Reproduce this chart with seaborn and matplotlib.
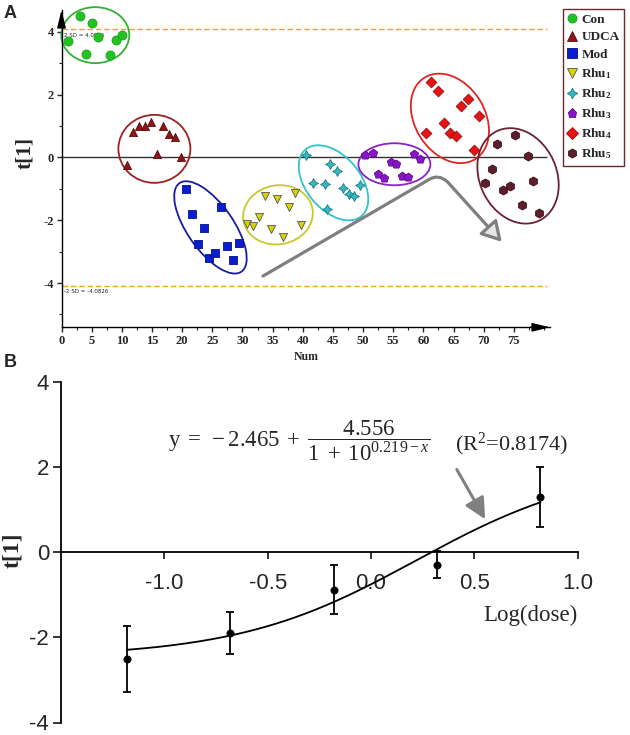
import numpy as np
import pandas as pd
import matplotlib
matplotlib.use("Agg")
import matplotlib.pyplot as plt
import seaborn as sns
from matplotlib.patches import Ellipse, FancyArrowPatch
from matplotlib.path import Path
from matplotlib.lines import Line2D
from matplotlib.transforms import ScaledTranslation
from matplotlib.ticker import MultipleLocator

# ---------------- data: panel A (PCA score plot) ----------------
groups = ["Con", "UDCA", "Mod", "Rhu1", "Rhu2", "Rhu3", "Rhu4", "Rhu5"]
legend_labels = ["Con", "UDCA", "Mod", r"Rhu$_{\mathbf{1}}$", r"Rhu$_{\mathbf{2}}$",
                 r"Rhu$_{\mathbf{3}}$", r"Rhu$_{\mathbf{4}}$", r"Rhu$_{\mathbf{5}}$"]

con_num = [1.1, 3.0, 4.1, 5.1, 6.1, 8.0, 9.0, 10.1]
con_t = [3.70, 4.50, 3.29, 4.27, 3.82, 3.27, 3.74, 3.89]
udca_num = [10.9, 11.9, 12.8, 13.8, 14.9, 15.9, 16.8, 17.8, 18.8, 19.8]
udca_t = [-0.25, 0.82, 1.00, 1.00, 1.13, 0.10, 1.00, 0.74, 0.66, 0.00]
mod_num = [20.7, 21.7, 22.7, 23.7, 24.5, 25.5, 26.5, 27.5, 28.4, 29.4]
mod_t = [-1.02, -1.81, -2.77, -2.26, -3.22, -3.06, -1.57, -2.82, -3.27, -2.72]
rhu1_num = [30.8, 31.7, 32.7, 33.7, 34.8, 35.7, 36.7, 37.8, 38.7, 39.7]
rhu1_t = [-2.12, -2.19, -1.89, -1.23, -2.28, -1.34, -2.55, -1.57, -1.15, -2.16]
rhu2_num = [40.6, 41.7, 43.7, 44.0, 44.5, 45.6, 46.6, 47.6, 48.5, 49.5]
rhu2_t = [0.07, -0.83, -0.86, -1.65, -0.21, -0.43, -0.99, -1.18, -1.23, -0.88]
rhu3_num = [50.4, 51.6, 52.4, 53.5, 54.6, 55.5, 56.5, 57.5, 58.4, 59.5]
rhu3_t = [0.07, 0.15, -0.53, -0.67, -0.14, -0.21, -0.59, -0.64, 0.10, -0.06]
rhu4_num = [60.5, 61.3, 62.5, 63.4, 64.4, 65.4, 66.3, 67.4, 68.4, 69.2]
rhu4_t = [0.76, 2.41, 2.11, 1.08, 0.78, 0.69, 1.63, 1.86, 0.23, 1.32]
rhu5_num = [70.2, 71.3, 72.2, 73.2, 74.3, 75.2, 76.3, 77.3, 78.2, 79.2]
rhu5_t = [-0.81, -0.37, 0.42, -1.04, -0.90, 0.71, -1.52, 0.05, -0.75, -1.78]

sd_limit = 4.0826
x_ticks_a = list(range(0, 80, 5))
y_ticks_a = [-4, -2, 0, 2, 4]

# ---------------- data: panel B (dose response) ----------------
log_dose = [-1.18, -0.68, -0.18, 0.32, 0.82]
t1_mean = [-2.50, -1.89, -0.88, -0.29, 1.30]
t1_err = [0.78, 0.49, 0.58, 0.32, 0.70]
fit_bottom = -2.465
fit_span = 4.556
fit_logec50 = 0.219
fit_r2 = 0.8174
x_ticks_b = [-1.0, -0.5, 0.0, 0.5, 1.0]
y_ticks_b = [-4, -2, 0, 2, 4]

frames = []
for g, xs, ys in zip(groups,
                     [con_num, udca_num, mod_num, rhu1_num, rhu2_num, rhu3_num, rhu4_num, rhu5_num],
                     [con_t, udca_t, mod_t, rhu1_t, rhu2_t, rhu3_t, rhu4_t, rhu5_t]):
    frames.append(pd.DataFrame({"group": g, "Num": xs, "t1": ys}))
df = pd.concat(frames, ignore_index=True)

# ---------------- styles ----------------
face = {"Con": "#20c420", "UDCA": "#8e1616", "Mod": "#0a1ecf", "Rhu1": "#d8d400",
        "Rhu2": "#38b8be", "Rhu3": "#8a14c8", "Rhu4": "#e41414", "Rhu5": "#5e1e2c"}
edge = {"Con": "#1aa01a", "UDCA": "#5a0a0a", "Mod": "#06108a", "Rhu1": "#555555",
        "Rhu2": "#1c7a80", "Rhu3": "#5a0a88", "Rhu4": "#a00a0a", "Rhu5": "#3a0e18"}
mark = {"Con": "o", "UDCA": "^", "Mod": "s", "Rhu1": "v", "Rhu2": (4, 1, 0),
        "Rhu3": "p", "Rhu4": "D", "Rhu5": "h"}
msize = {"Con": 42, "UDCA": 34, "Mod": 40, "Rhu1": 34, "Rhu2": 50, "Rhu3": 40,
         "Rhu4": 30, "Rhu5": 42}
ell_color = {"Con": "#33b033", "UDCA": "#9a2222", "Mod": "#1a1aa8", "Rhu1": "#c8c828",
             "Rhu2": "#30c4cc", "Rhu3": "#8a22c4", "Rhu4": "#e02424", "Rhu5": "#6a2232"}
# ellipse geometry: centre (data), width/height in pixels, angle in degrees
ell_geom = {"Con": (5.6, 3.89, 68, 56, 0), "UDCA": (15.4, 0.27, 72, 68, 0),
            "Mod": (24.7, -2.23, 108, 46, -55), "Rhu1": (35.9, -1.83, 70, 59, 10),
            "Rhu2": (45.1, -0.81, 87, 54, -50), "Rhu3": (55.2, -0.22, 72, 42, 0),
            "Rhu4": (64.4, 1.24, 96, 70, -58), "Rhu5": (75.7, -0.59, 99, 77, -65)}

sns.set_style("white")
plt.rcParams["font.family"] = ["Liberation Serif", "DejaVu Sans"]
plt.rcParams["mathtext.fontset"] = "custom"
plt.rcParams["mathtext.rm"] = "Liberation Serif"
plt.rcParams["mathtext.it"] = "Liberation Serif:italic"
plt.rcParams["mathtext.bf"] = "Liberation Serif:bold"
plt.rcParams["axes.unicode_minus"] = False

fig = plt.figure(figsize=(6.3, 7.35), dpi=100)
W, H = 630.0, 735.0

# ================= Panel A =================
ax = fig.add_axes([61.5 / W, 1 - 327.3 / H, (550 - 61.5) / W, (327.3 - 10) / H])
ax.set_xlim(0, 81)
ax.set_ylim(-5.41, 4.69)

ax.hlines([sd_limit, -sd_limit], 0, 80.5, colors="#f0a030", linestyles=(0, (4, 2)), lw=1.0, zorder=1)
ax.hlines(0, 0, 80.5, colors="#333333", lw=1.0, zorder=1)
ax.text(0.4, sd_limit - 0.12, f"2 SD = {sd_limit}", fontsize=4, family="DejaVu Sans",
        va="top", ha="left", color="#222222", zorder=1)
ax.text(0.4, -sd_limit - 0.12, f"-2 SD = -{sd_limit}", fontsize=4, family="DejaVu Sans",
        va="top", ha="left", color="#222222", zorder=1)

for g in groups:
    sub = df[df["group"] == g]
    sns.scatterplot(data=sub, x="Num", y="t1", marker=mark[g], color=face[g],
                    edgecolor=edge[g], linewidth=0.6, s=msize[g], ax=ax, legend=False, zorder=3)
    cx, cy, w, h, ang = ell_geom[g]
    tr = fig.dpi_scale_trans + ScaledTranslation(cx, cy, ax.transData)
    ax.add_patch(Ellipse((0, 0), w / 100.0, h / 100.0, angle=ang, transform=tr,
                         fill=False, ec=ell_color[g], lw=1.3, zorder=2, clip_on=False))

# gray trend arrow
verts = [(33.4, -3.78), (61.0, -0.70), (62.5, -0.52), (64.0, -0.78), (73.0, -2.69)]
codes = [Path.MOVETO, Path.LINETO, Path.CURVE3, Path.CURVE3, Path.LINETO]
arr = FancyArrowPatch(path=Path(verts, codes), arrowstyle="-|>,head_length=0.6,head_width=0.35",
                      mutation_scale=20, facecolor="#e6e6e6", edgecolor="#7f7f7f", lw=2.3,
                      joinstyle="round", zorder=2)
ax.add_patch(arr)

for s in ["top", "right"]:
    ax.spines[s].set_visible(False)
for s in ["left", "bottom"]:
    ax.spines[s].set_color("black")
    ax.spines[s].set_linewidth(1.0)
ax.annotate("", xy=(1.0, 0), xytext=(0.96, 0), xycoords="axes fraction",
            arrowprops=dict(arrowstyle="-|>,head_length=0.9,head_width=0.22", color="black",
                            lw=1.0, mutation_scale=12, shrinkA=0, shrinkB=0))
ax.annotate("", xy=(0, 1.0), xytext=(0, 0.96), xycoords="axes fraction",
            arrowprops=dict(arrowstyle="-|>,head_length=0.9,head_width=0.22", color="black",
                            lw=1.0, mutation_scale=12, shrinkA=0, shrinkB=0))

ax.set_xticks(x_ticks_a)
ax.set_yticks(y_ticks_a)
ax.xaxis.set_minor_locator(MultipleLocator(2.5))
ax.yaxis.set_minor_locator(MultipleLocator(1))
ax.tick_params(which="major", direction="out", length=3.5, width=1.0, labelsize=9, pad=2,
               bottom=True, left=True)
ax.tick_params(which="minor", direction="out", length=2, width=0.8, bottom=True, left=True)
for lab in ax.get_xticklabels() + ax.get_yticklabels():
    lab.set_fontweight("bold")
ax.set_xlabel("Num", fontsize=8.5, fontweight="bold", labelpad=3)
ax.set_ylabel("")
fig.text(25 / W, 1 - 153 / H, "t[1]", rotation=90, fontsize=15.5, fontweight="bold",
         ha="center", va="center")
fig.text(10 / W, 1 - 14 / H, "A", fontsize=13, fontweight="bold", family="Liberation Sans",
         ha="center", va="center")

handles = [Line2D([], [], linestyle="none", marker=mark[g], markerfacecolor=face[g],
                  markeredgecolor=edge[g], markeredgewidth=0.6,
                  markersize=6.5 if g != "Rhu2" else 7.5) for g in groups]
leg = fig.legend(handles, legend_labels, loc="upper left", bbox_to_anchor=(563 / W, 1 - 9 / H),
                 frameon=True, fancybox=False, edgecolor="#6b2a2a", framealpha=1,
                 prop={"family": "Liberation Serif", "weight": "bold", "size": 9.5},
                 handlelength=0.7, handletextpad=0.35, labelspacing=0.4, borderpad=0.35,
                 borderaxespad=0)
leg.get_frame().set_linewidth(1.0)

# ================= Panel B =================
ax2 = fig.add_axes([61 / W, 1 - 722.5 / H, (577.7 - 61) / W, (722.5 - 382.3) / H])
ax2.set_xlim(-1.5, 1.0)
ax2.set_ylim(-4, 4)

xs_fit = np.linspace(min(log_dose), max(log_dose), 300)
ys_fit = fit_bottom + fit_span / (1 + 10 ** (fit_logec50 - xs_fit))
sns.lineplot(x=xs_fit, y=ys_fit, color="black", lw=1.3, ax=ax2, zorder=3)
ax2.errorbar(log_dose, t1_mean, yerr=t1_err, fmt="none", ecolor="black", elinewidth=1.3,
             capsize=3, capthick=1.3, zorder=3)
sns.scatterplot(x=log_dose, y=t1_mean, color="black", s=28, edgecolor="black", ax=ax2,
                legend=False, zorder=4)

for s in ["top", "right"]:
    ax2.spines[s].set_visible(False)
ax2.spines["bottom"].set_position(("data", 0))
for s in ["left", "bottom"]:
    ax2.spines[s].set_color("black")
    ax2.spines[s].set_linewidth(1.3)
ax2.set_xticks(x_ticks_b)
ax2.set_xticklabels([f"{v:.1f}" for v in x_ticks_b])
ax2.set_yticks(y_ticks_b)
ax2.set_yticklabels([str(v) for v in y_ticks_b])
ax2.tick_params(axis="x", direction="out", length=5, width=1.3, pad=10, labelsize=16,
                bottom=True)
ax2.tick_params(axis="y", direction="out", length=5.5, width=1.3, pad=3, labelsize=16,
                left=True)
for lab in ax2.get_xticklabels() + ax2.get_yticklabels():
    lab.set_fontfamily("Liberation Sans")
ax2.set_xlabel("")
ax2.set_ylabel("")
ax2.text(1.0, -1.48, "Log(dose)", fontsize=16.5, ha="right", va="center")
fig.text(13 / W, 1 - 550 / H, "t[1]", rotation=90, fontsize=17, fontweight="bold",
         ha="center", va="center")
fig.text(10 / W, 1 - 362 / H, "B", fontsize=13, fontweight="bold", family="Liberation Sans",
         ha="center", va="center")

eq = (r"$\mathrm{y}\;=\;%.3f\;+\;\dfrac{%.3f}{1\;+\;10^{%.3f - x}}$"
      % (fit_bottom, fit_span, fit_logec50))
ax2.text(-0.982, 2.62, eq, fontsize=16.5, ha="left", va="center")
ax2.text(0.406, 2.53, r"(R$^{2}$=%.4f)" % fit_r2, fontsize=16, ha="left", va="center")
ax2.annotate("", xy=(0.552, 0.78), xytext=(0.415, 1.95), xycoords="data",
             arrowprops=dict(arrowstyle="-|>,head_length=0.7,head_width=0.35", color="#808080",
                             lw=2.2, mutation_scale=18, shrinkA=0, shrinkB=0))

fig.savefig("out.png", dpi=100)
